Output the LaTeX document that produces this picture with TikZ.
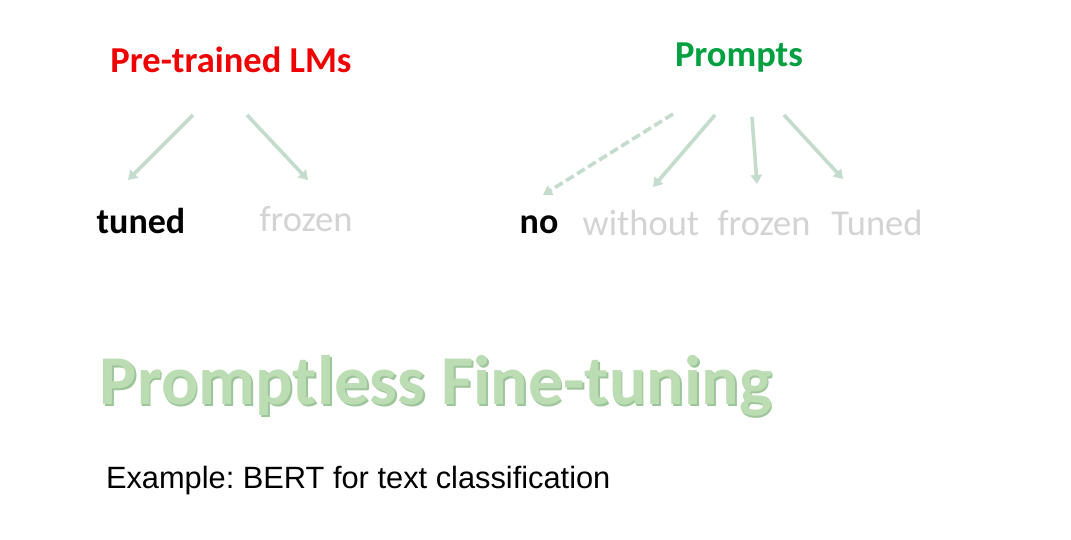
\documentclass[tikz,border=0pt]{standalone}
\usepackage{fontspec}
\setmainfont{Carlito}
\newfontfamily\arialfont{Liberation Sans}
\usetikzlibrary{arrows.meta}
\definecolor{arrowc}{HTML}{C4DCCC}
\definecolor{lightgray}{HTML}{D3D3D3}
\definecolor{titlered}{HTML}{F00000}
\definecolor{titlegreen}{HTML}{00A040}
\definecolor{biggreen}{HTML}{BCDDB4}
\definecolor{bigedge}{HTML}{9CC59A}
\frenchspacing
\tikzset{
  every node/.style={inner sep=0pt, outer sep=0pt},
  head/.style={font=\bfseries\fontsize{36.5}{42}\selectfont},
  lab/.style={font=\fontsize{36.5}{42}\selectfont, text=lightgray},
  labon/.style={font=\bfseries\fontsize{36}{42}\selectfont, text=black},
  conn/.style={draw=arrowc, line width=3.6pt, -{Triangle[width=11pt,length=9pt]}},
  dashconn/.style={conn, dash pattern=on 9pt off 4pt},
}
\begin{document}
\begin{tikzpicture}[x=1pt,y=-1pt]
\useasboundingbox (0,0) rectangle (1071,539);
\fill[white] (0,0) rectangle (1071,539);
% headings
\node[head, text=titlered] (plm) at (231,60) {Pre-trained LMs};
\node[head, text=titlegreen] (prm) at (739,58) {Prompts};
% labels
\node[labon] (tuned) at (141,221) {tuned};
\node[lab] (frozenA) at (306,219) {frozen};
\node[labon] (no) at (539,225) {no};
\node[lab] (without) at (641,223) {without};
\node[lab] (frozenB) at (764,223) {frozen};
\node[lab] (Tuned) at (877,223) {Tuned};
% arrow coordinates
\coordinate (a1s) at (193,115); \coordinate (a1e) at (128,180);
\coordinate (a2s) at (247,115); \coordinate (a2e) at (308,180);
\coordinate (b1s) at (673,114); \coordinate (b1e) at (543,195);
\coordinate (b2s) at (715,115); \coordinate (b2e) at (653,187);
\coordinate (b3s) at (752,117); \coordinate (b3e) at (757,184);
\coordinate (b4s) at (784,115); \coordinate (b4e) at (843,179);
\draw[conn] (a1s) -- (a1e);
\draw[conn] (a2s) -- (a2e);
\draw[dashconn] (b1s) -- (b1e);
\draw[conn] (b2s) -- (b2e);
\draw[conn] (b3s) -- (b3e);
\draw[conn] (b4s) -- (b4e);
% big title
\node[font=\bfseries\fontsize{70}{80}\selectfont, text=bigedge] (bigsh) at (437.8,387.8) {Promptless Fine-tuning};
\node[font=\bfseries\fontsize{70}{80}\selectfont, text=biggreen] (big) at (436,386) {Promptless Fine-tuning};
% example
\node[font=\arialfont\fontsize{30.8}{36}\selectfont, anchor=base west] (ex) at (106,488) {Example: BERT for text classification};
\end{tikzpicture}
\end{document}
